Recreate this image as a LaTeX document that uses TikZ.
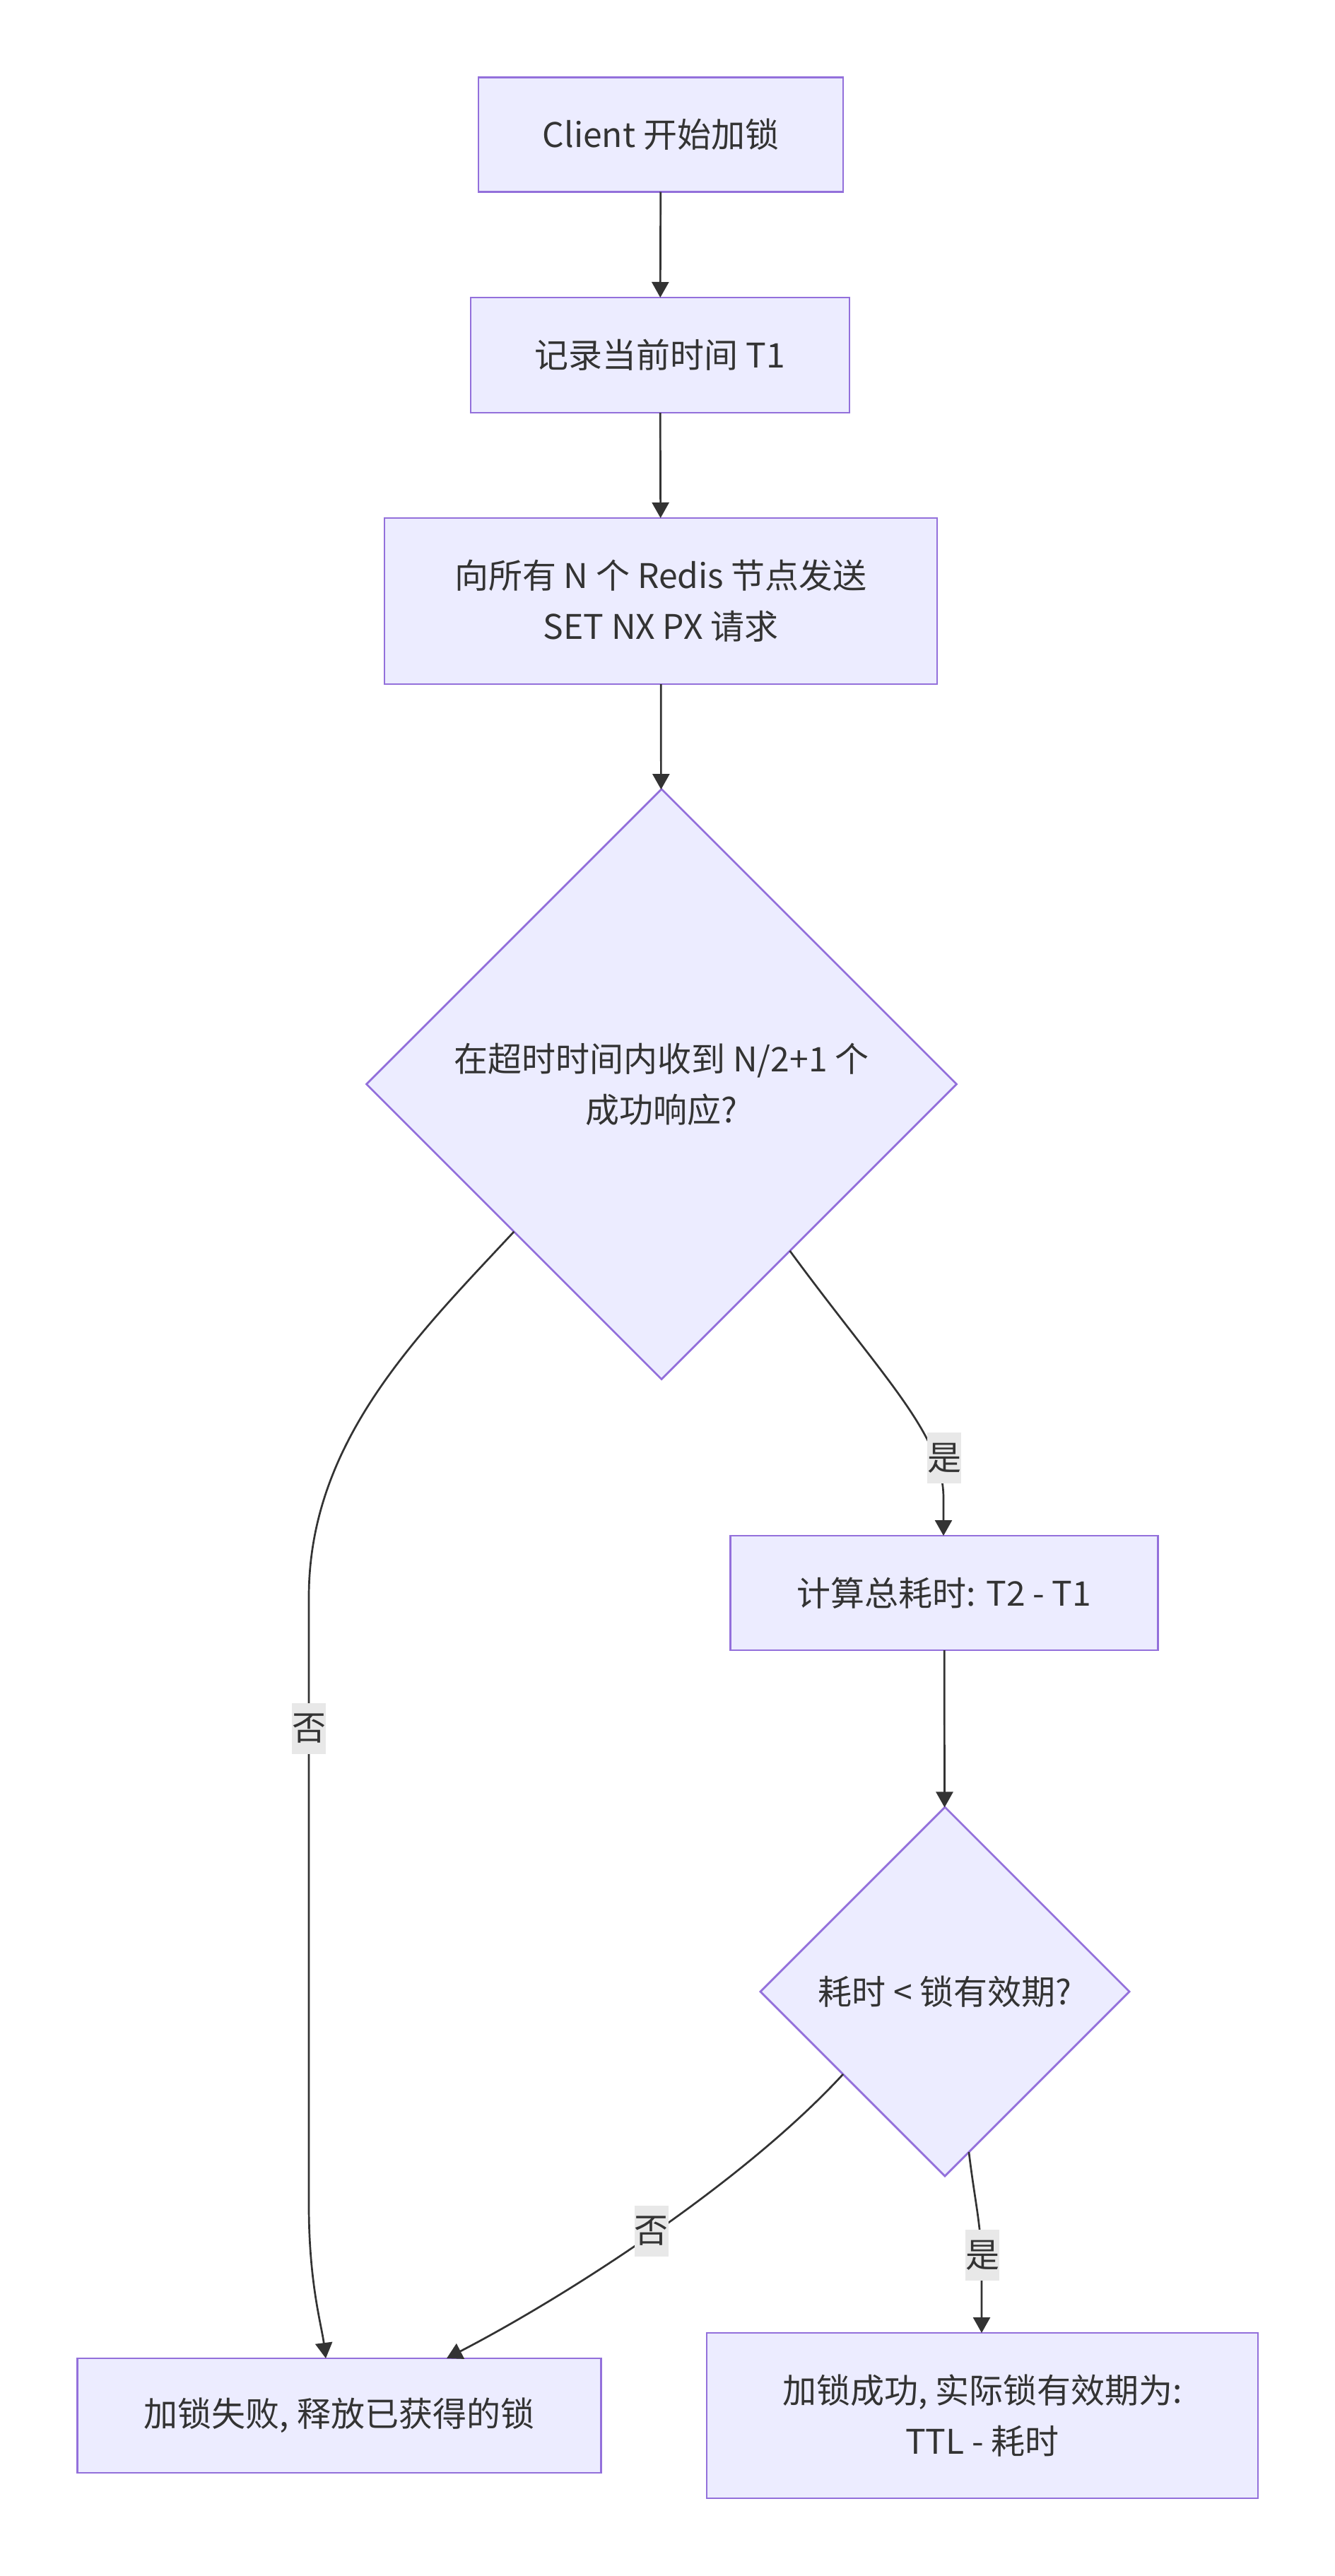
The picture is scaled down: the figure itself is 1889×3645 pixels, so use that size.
\documentclass[tikz,border=0pt]{standalone}
\usepackage{fontspec}
\setmainfont{Noto Sans CJK SC}
\usetikzlibrary{shapes.geometric,arrows.meta,calc}
\definecolor{nodefill}{HTML}{ECECFF}
\definecolor{nodeline}{HTML}{9370DB}
\definecolor{edgec}{HTML}{333333}
\definecolor{lblfill}{HTML}{E8E8E8}
\begin{document}
\begin{tikzpicture}[x=0.5pt,y=-0.5pt,
  box/.style={draw=nodeline,fill=nodefill,line width=1.4pt,inner sep=0pt,outer sep=0pt,align=center,text=edgec,font=\fontsize{24pt}{36pt}\selectfont},
  dia/.style={box,shape=diamond,aspect=1},
  lbl/.style={fill=lblfill,inner sep=0pt,minimum width=24pt,minimum height=36pt,text=edgec,font=\fontsize{24pt}{36pt}\selectfont},
  edge/.style={draw=edgec,line width=1.35pt,-{Triangle[length=11pt,width=12pt]}}]
\useasboundingbox[fill=white] (0,0) rectangle (1889,3645);

\node[box,minimum width=258pt,minimum height=81pt] (A) at (935,190.5) {Client 开始加锁};
\node[box,minimum width=268pt,minimum height=81.5pt] (B) at (934,502.5) {记录当前时间 T1};
\node[box,minimum width=391pt,minimum height=117.5pt] (C) at (935,850.5) {向所有 N 个 Redis 节点发送\\SET NX PX 请求};
\node[dia,minimum width=417.5pt,minimum height=417.5pt] (D1) at (936,1534) {在超时时间内收到 N/2+1 个\\成功响应?};
\node[box,minimum width=302.5pt,minimum height=81pt] (E) at (1336,2254) {计算总耗时: T2 - T1};
\node[dia,minimum width=261pt,minimum height=261pt] (D2) at (1337,2818) {耗时 < 锁有效期?};
\node[box,minimum width=370.5pt,minimum height=81pt] (F) at (480,3418) {加锁失败, 释放已获得的锁};
\node[box,minimum width=390pt,minimum height=117pt] (G) at (1390,3418) {加锁成功, 实际锁有效期为:\\TTL - 耗时};

\draw[edge] (A) -- (B);
\draw[edge] (B) -- (C);
\draw[edge] (C) -- (D1);

\draw[edge] (D1.south west) .. controls (590,1890) and (437,2040) .. (437,2260)
  -- (437,3120) .. controls (437,3230) and (455,3290) .. ([xshift=-9.5pt]F.north);
\node[lbl] (l1) at (437,2446) {否};

\draw[edge] ($(D1.south east)!0.13!(D1.south)$) .. controls (1250,1950) and (1335,2030) .. (1335,2120) -- (E.north -| 1335,0);
\node[lbl] (l2) at (1336,2063) {是};

\draw[edge] (E) -- (D2);

\draw[edge] ($(D2.west)!0.448!(D2.south)$) .. controls (1050,3090) and (800,3250) .. ([xshift=76pt]F.north);
\node[lbl] (l3) at (921.6,3157) {否};

\draw[edge] ($(D2.east)!0.87!(D2.south)$) .. controls (1380,3120) and (1389,3150) .. (1389,3210) -- (G.north -| 1389,0);
\node[lbl] (l4) at (1390,3191) {是};
\end{tikzpicture}
\end{document}
